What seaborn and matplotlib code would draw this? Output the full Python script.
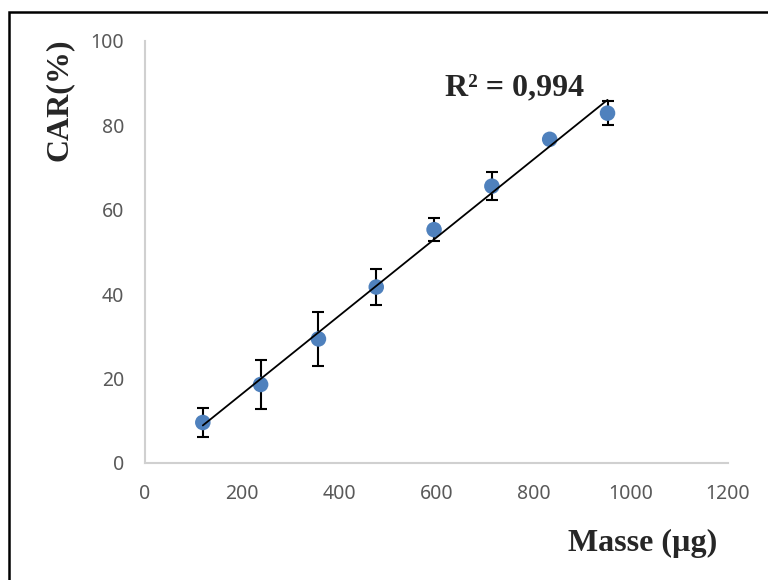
import matplotlib
matplotlib.use("Agg")
import matplotlib.pyplot as plt
import numpy as np
import pandas as pd
import seaborn as sns
from matplotlib.patches import Rectangle

# values
masse = [119, 238, 357, 476, 595, 714, 833, 952]
car = [9.6, 18.6, 29.4, 41.7, 55.3, 65.6, 76.7, 82.9]
car_err = [3.4, 5.8, 6.4, 4.3, 2.7, 3.3, 0.0, 2.9]
x_ticks = [0, 200, 400, 600, 800, 1000, 1200]
y_ticks = [0, 20, 40, 60, 80, 100]
r2_label = "R² = 0,994"

df = pd.DataFrame({"masse": masse, "car": car, "err": car_err})

sns.set_theme(style="white")
plt.rcParams["font.family"] = ["Noto Sans", "DejaVu Sans"]

fig = plt.figure(figsize=(7.68, 5.8), dpi=100)
ax = fig.add_axes([145 / 768, 1 - 463 / 580, 583 / 768, 422 / 580])

# error bars under the markers
ax.errorbar(df["masse"], df["car"], yerr=df["err"], fmt="none",
            ecolor="black", elinewidth=1.5, capsize=4.5, capthick=1.5, zorder=2)
sns.scatterplot(data=df, x="masse", y="car", ax=ax, s=125, color="#4F81BD",
                edgecolor="none", zorder=3)
# linear trend line, Excel style
sns.regplot(data=df, x="masse", y="car", ax=ax, scatter=False, ci=None,
            truncate=True, line_kws={"color": "black", "lw": 1.3, "zorder": 4})

ax.set_xlim(0, 1200)
ax.set_ylim(0, 100)
ax.set_xticks(x_ticks)
ax.set_yticks(y_ticks)
ax.tick_params(axis="both", length=0, labelsize=14, labelcolor="#595959")
ax.tick_params(axis="y", pad=15)
ax.tick_params(axis="x", pad=15)
for side in ["top", "right"]:
    ax.spines[side].set_visible(False)
for side in ["left", "bottom"]:
    ax.spines[side].set_color("#d0d0d0")
    ax.spines[side].set_linewidth(1.5)
ax.set_xlabel("")
ax.set_ylabel("")
ax.grid(False)

serif_bold = dict(family=["Liberation Serif", "DejaVu Serif"], weight="bold", size=23)
ax.text(617, 89, r2_label, ha="left", va="center", **serif_bold)
fig.text(59 / 768, 1 - 100 / 580, "CAR(%)", rotation=90, ha="center",
         va="center", **serif_bold)
fig.text(643 / 768, 1 - 543 / 580, "Masse (µg)", ha="center", va="center",
         **serif_bold)

# outer frame, only left and top edges inside the picture
fig.patches.append(Rectangle((9 / 768, -0.5), 2, 1.5 - 12 / 580,
                             transform=fig.transFigure, fill=False,
                             edgecolor="black", lw=1.8))

fig.savefig("out.png", dpi=100, facecolor="white")
